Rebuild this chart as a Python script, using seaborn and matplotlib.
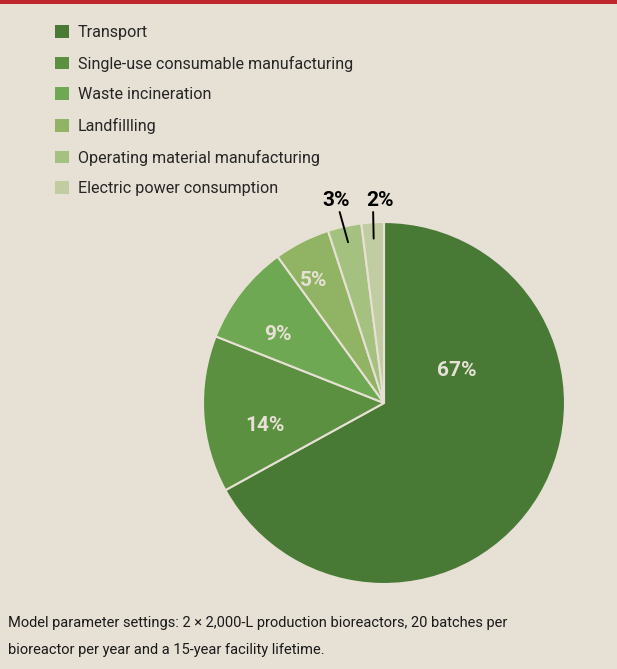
import matplotlib
matplotlib.use("Agg")
import matplotlib.pyplot as plt
import numpy as np
import seaborn as sns

categories = [
    "Transport",
    "Single-use consumable manufacturing",
    "Waste incineration",
    "Landfillling",
    "Operating material manufacturing",
    "Electric power consumption",
]
shares = [67, 14, 9, 5, 3, 2]
colors = ["#487a35", "#5a9040", "#6fa852", "#90b464", "#a5c180", "#c2cca2"]
footnote = ("Model parameter settings: 2 \u00d7 2,000-L production bioreactors, 20 batches per\n"
            "bioreactor per year and a 15-year facility lifetime.")

BG = "#e7e0d4"
sns.set_theme(style="white")
plt.rcParams["font.family"] = ["Roboto", "DejaVu Sans"]

palette = sns.color_palette(colors)

fig = plt.figure(figsize=(6.17, 6.69), dpi=100, facecolor=BG)

# red rule across the top
fig.add_artist(plt.Rectangle((0, 1 - 4 / 669), 1, 4 / 669, transform=fig.transFigure,
                             color="#c0272d", lw=0))

W, H = 617, 669
cx, cy, r = 384, 403, 181
ax = fig.add_axes([(cx - r) / W, (H - cy - r) / H, 2 * r / W, 2 * r / H])
ax.set_facecolor(BG)

wedges, _ = ax.pie(shares, colors=palette, startangle=90, counterclock=False,
                   wedgeprops=dict(edgecolor=BG, linewidth=1.5))
ax.set_xlim(-1, 1)
ax.set_ylim(-1, 1)
ax.set_aspect("equal")
ax.axis("off")

# inside labels: (radius, angle shift in degrees) per wedge
inner = {0: (0.44, 55), 1: (0.67, 7), 2: (0.70, 5), 3: (0.78, 3)}
for i, (rad, shift) in inner.items():
    w = wedges[i]
    ang = np.deg2rad((w.theta1 + w.theta2) / 2 + shift)
    ax.text(rad * np.cos(ang), rad * np.sin(ang), f"{shares[i]}%", ha="center",
            va="center", color=BG, fontsize=15, fontweight="bold")

# outside labels with leader lines
outer = {4: -0.265, 5: -0.02}
for i, lx in outer.items():
    w = wedges[i]
    ang = np.deg2rad((w.theta1 + w.theta2) / 2)
    px, py = 0.91 * np.cos(ang), 0.91 * np.sin(ang)
    ax.plot([px, lx + (0.02 if i == 4 else -0.04)], [py, 1.055], color="black", lw=1.4,
            clip_on=False)
    ax.text(lx, 1.12, f"{shares[i]}%", ha="center", va="center", color="black",
            fontsize=15, fontweight="bold")

leg = fig.legend(wedges, categories, loc="upper left",
                 bbox_to_anchor=(55 / W, 1 - 25 / H), frameon=False, fontsize=11.6,
                 handlelength=0.85, handleheight=0.85, handletextpad=0.55,
                 labelspacing=0.97, borderpad=0, borderaxespad=0)
for h in leg.legend_handles:
    h.set_edgecolor("none")

fig.text(8 / W, 1 - 616 / H, footnote, ha="left", va="top", fontsize=10.5,
         linespacing=2.2, color="#1a1a1a")

fig.savefig("out.png", dpi=100, facecolor=BG)
